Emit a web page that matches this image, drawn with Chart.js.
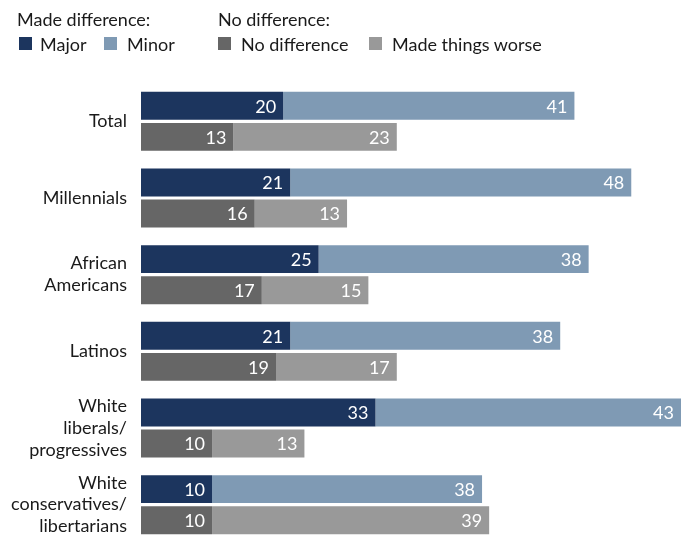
<!DOCTYPE html>
<html>
<head>
<meta charset="utf-8">
<script src="https://cdn.jsdelivr.net/npm/chart.js@4.4.1/dist/chart.umd.min.js"></script>
<style>
  html, body { margin: 0; padding: 0; background: #fff; overflow: hidden; width: 687px; height: 535px; }
  #wrap { position: relative; width: 687px; height: 535px; overflow: hidden; font-family: Lato, sans-serif; color: #1a1a1a; }
  canvas { position: absolute; left: 0; top: 0; }
  .lg { position: absolute; font-size: 18px; line-height: 22px; white-space: nowrap; }
  .sq { position: absolute; width: 13px; height: 13px; }
</style>
</head>
<body>
<div id="wrap">
  <canvas id="c" width="687" height="543"></canvas>
  <div class="lg" style="left:17px; top:8px;">Made difference:</div>
  <div class="lg" style="left:218px; top:8px;">No difference:</div>
  <div class="sq" style="left:19px; top:37px; background:#1c355e;"></div>
  <div class="lg" style="left:40px; top:33px;">Major</div>
  <div class="sq" style="left:104px; top:37px; background:#7f9ab4;"></div>
  <div class="lg" style="left:127px; top:33px;">Minor</div>
  <div class="sq" style="left:218px; top:37px; background:#666666;"></div>
  <div class="lg" style="left:241px; top:33px;">No difference</div>
  <div class="sq" style="left:369px; top:37px; background:#999999;"></div>
  <div class="lg" style="left:392px; top:33px;">Made things worse</div>
</div>
<script>
const categories = [
  "Total",
  "Millennials",
  ["African", "Americans"],
  "Latinos",
  ["White", "liberals/", "progressives"],
  ["White", "conservatives/", "libertarians"]
];
const major = [20, 21, 25, 21, 33, 10];
const minor = [41, 48, 38, 38, 43, 38];
const noDifference = [13, 16, 17, 19, 10, 10];
const madeWorse = [23, 13, 15, 17, 13, 39];

const valueLabels = {
  id: 'valueLabels',
  afterDatasetsDraw(chart) {
    const ctx = chart.ctx;
    ctx.save();
    ctx.font = '18px Lato, sans-serif';
    ctx.fillStyle = '#ffffff';
    ctx.textAlign = 'right';
    ctx.textBaseline = 'middle';
    chart.data.datasets.forEach((ds, i) => {
      const meta = chart.getDatasetMeta(i);
      meta.data.forEach((el, j) => {
        ctx.fillText(String(ds.data[j]), el.x - 7, el.y + 1);
      });
    });
    ctx.restore();
  }
};

new Chart(document.getElementById('c'), {
  type: 'bar',
  data: {
    labels: categories,
    datasets: [
      { label: 'Major', data: major, stack: 'made', backgroundColor: '#1c355e' },
      { label: 'Minor', data: minor, stack: 'made', backgroundColor: '#7f9ab4' },
      { label: 'No difference', data: noDifference, stack: 'no', backgroundColor: '#666666' },
      { label: 'Made things worse', data: madeWorse, stack: 'no', backgroundColor: '#999999' }
    ]
  },
  options: {
    indexAxis: 'y',
    responsive: false,
    animation: false,
    devicePixelRatio: 1,
    categoryPercentage: 0.81,
    barPercentage: 0.9,
    layout: { padding: { top: 83, bottom: 0, left: 0, right: 6 } },
    plugins: { legend: { display: false }, tooltip: { enabled: false } },
    scales: {
      x: {
        stacked: true, min: 0, max: 76,
        display: false
      },
      y: {
        stacked: true,
        grid: { display: false, drawTicks: false },
        border: { display: false },
        ticks: { padding: 14, color: '#1a1a1a', font: { family: 'Lato', size: 18, lineHeight: 1.22 } },
        afterFit(scale) { scale.width = 141; scale.paddingTop = 0; scale.paddingBottom = 0; }
      }
    }
  },
  plugins: [valueLabels]
});
</script>
</body>
</html>
